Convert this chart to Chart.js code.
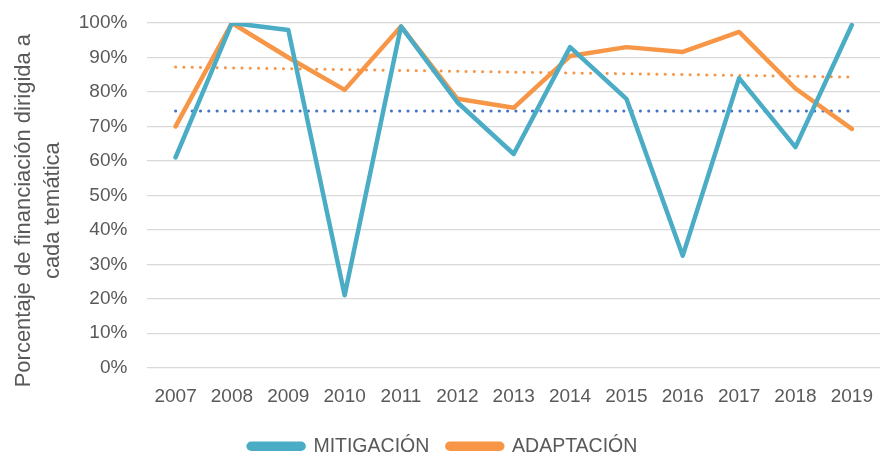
<!DOCTYPE html>
<html>
<head>
<meta charset="utf-8">
<script src="https://cdn.jsdelivr.net/npm/chart.js@4"></script>
<style>
  html, body { margin: 0; padding: 0; background: #fff; }
  #wrap { width: 880px; height: 460px; position: relative; }
</style>
</head>
<body>
<div id="wrap"><canvas id="myChart"></canvas></div>
<script>
const years = ["2007", "2008", "2009", "2010", "2011", "2012", "2013", "2014", "2015", "2016", "2017", "2018", "2019"];
const mitigacion = [61, 100, 98, 21, 99, 77, 62, 93, 78, 32.5, 84, 64, 99.4];
const adaptacion = [70, 100, 90, 80.6, 99, 78, 75.4, 90.4, 93, 91.6, 97.4, 81, 69.3];
// trend lines (start / end values)
const trendMitigacion = [74.5, null, null, null, null, null, null, null, null, null, null, null, 74.5];
const trendAdaptacion = [87.2, null, null, null, null, null, null, null, null, null, null, null, 84.3];

const fontFamily = "'Liberation Sans', Arial, sans-serif";

function renderChart() {
    const ctx = document.getElementById("myChart").getContext('2d');
    new Chart(ctx, {
        type: "line",
        data: {
            labels: years,
            datasets: [
                { label: "MITIGACIÓN", data: mitigacion, borderColor: "#4BACC6", backgroundColor: "#4BACC6",
                  borderWidth: 4.5, pointRadius: 0, borderCapStyle: "round", borderJoinStyle: "round" },
                { label: "ADAPTACIÓN", data: adaptacion, borderColor: "#F79646", backgroundColor: "#F79646",
                  borderWidth: 4.5, pointRadius: 0, borderCapStyle: "round", borderJoinStyle: "round" },
                { label: "trend1", data: trendMitigacion, borderColor: "#4472C4", borderWidth: 3,
                  borderDash: [0.1, 8.2], borderCapStyle: "round", pointRadius: 0, spanGaps: true },
                { label: "trend2", data: trendAdaptacion, borderColor: "#F79646", borderWidth: 3,
                  borderDash: [0.1, 8.2], borderCapStyle: "round", pointRadius: 0, spanGaps: true },
            ],
        },
        options: {
            responsive: true,
            maintainAspectRatio: false,
            animation: false,
            layout: { padding: { top: 23, right: 0, bottom: -6, left: 6 } },
            plugins: {
                tooltip: { enabled: false },
                legend: {
                    position: "bottom",
                    labels: {
                        filter: (item) => item.datasetIndex < 2,
                        boxWidth: 55, boxHeight: 5, useBorderRadius: true, borderRadius: 2.5,
                        padding: 18, color: "#595959",
                        font: { family: fontFamily, size: 19.5 },
                    },
                },
            },
            scales: {
                x: {
                    offset: true,
                    grid: { display: false },
                    border: { display: false },
                    ticks: { color: "#595959", font: { family: fontFamily, size: 19 }, padding: 10, maxRotation: 0 },
                    afterFit: (s) => { s.paddingLeft = 0; s.paddingRight = 0; },
                },
                y: {
                    min: 0, max: 100,
                    ticks: { stepSize: 10, color: "#595959", font: { family: fontFamily, size: 19 }, padding: 20,
                             callback: (v) => v + "%" },
                    grid: { color: "#D9D9D9", lineWidth: 1.3, drawTicks: false },
                    border: { display: false },
                    afterFit: (s) => { s.paddingTop = 0; s.paddingBottom = 0; },
                    title: {
                        display: true,
                        // trailing spaces push the rotated title down, as in the original
                        text: ["Porcentaje de financiación dirigida a     ", "cada temática     "],
                        color: "#595959",
                        font: { family: fontFamily, size: 22, lineHeight: 1.3 },
                        padding: { top: 4, bottom: -8.4 },
                    },
                },
            },
        },
    });
}

document.addEventListener("DOMContentLoaded", renderChart);
</script>
</body>
</html>
